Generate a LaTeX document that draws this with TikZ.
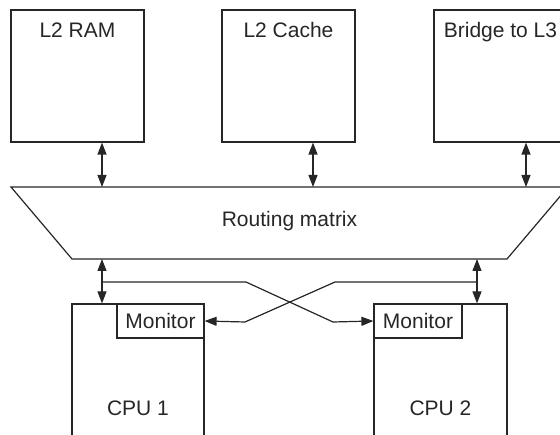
\documentclass[tikz,border=0pt]{standalone}
\usepackage{fontspec}
\setmainfont{Liberation Sans}
\usetikzlibrary{arrows.meta,positioning}

\tikzset{
  box/.style={draw,rectangle,inner sep=0pt},
  lbl/.style={anchor=base,inner sep=0pt},
  bus/.style={{Triangle[length=12pt,width=9pt]}-{Triangle[length=12pt,width=9pt]}},
  tap/.style={-{Triangle[length=12pt,width=9pt]}}
}

\begin{document}
\begin{tikzpicture}[x=1pt,y=-1pt,line width=1.2pt,color=black!85,font=\fontsize{21}{25}\selectfont]
\useasboundingbox (0,0) rectangle (560,435);
\clip (0,0) rectangle (560,435);
% memories on top
\node[box,minimum width=133pt,minimum height=132pt] (ram) at (77.5,76) {};
\node[box,minimum width=133pt,minimum height=132pt] (cache) at (288.5,76) {};
\node[box,minimum width=133pt,minimum height=132pt] (bridge) at (500.5,76) {};
\node[lbl] (ramtxt) at (77.5,38) {L2 RAM};
\node[lbl] (cachetxt) at (288.5,38) {L2 Cache};
\node[lbl] (bridgetxt) at (500.5,38) {Bridge to L3};
% routing matrix
\coordinate (mtl) at (11,187);
\coordinate (mtr) at (568,187);
\coordinate (mbr) at (507,259);
\coordinate (mbl) at (72,259);
\draw (mtl) -- (mtr) -- (mbr) -- (mbl) -- cycle;
\node[lbl] (matrix) at (289.5,227) {Routing matrix};
% cpus
\node[box,minimum width=132pt,minimum height=160pt] (cpua) at (138,384) {};
\node[box,minimum width=133pt,minimum height=160pt] (cpub) at (440.5,384) {};
\node[box,minimum width=87pt,minimum height=34pt] (mona) at (160.5,321) {};
\node[box,minimum width=88pt,minimum height=34pt] (monb) at (418,321) {};
\node[lbl] (monatxt) at (mona.center |- 0,329) {Monitor};
\node[lbl] (monbtxt) at (monb.center |- 0,329) {Monitor};
\node[lbl] (cpuatxt) at (138,416) {CPU 1};
\node[lbl] (cpubtxt) at (440.5,416) {CPU 2};
% ports
\coordinate (pr) at (102,187);
\coordinate (pc) at (313,187);
\coordinate (pb) at (526,187);
\coordinate (qa) at (102,259);
\coordinate (qb) at (477,259);
\coordinate (ta) at (102,282);
\coordinate (tb) at (477,282);
\path[bus]
(ram.south -| pr) edge (pr)
(cache.south -| pc) edge (pc)
(bridge.south -| pb) edge (pb)
(qa) edge (cpua.north -| qa)
(qb) edge (cpub.north -| qb);
\draw[tap] (ta) -- (246,282) -- (333,322) -- (monb.west);
\draw[tap] (tb) -- (335,282) -- (245,322) -- (mona.east);
\end{tikzpicture}
\end{document}
